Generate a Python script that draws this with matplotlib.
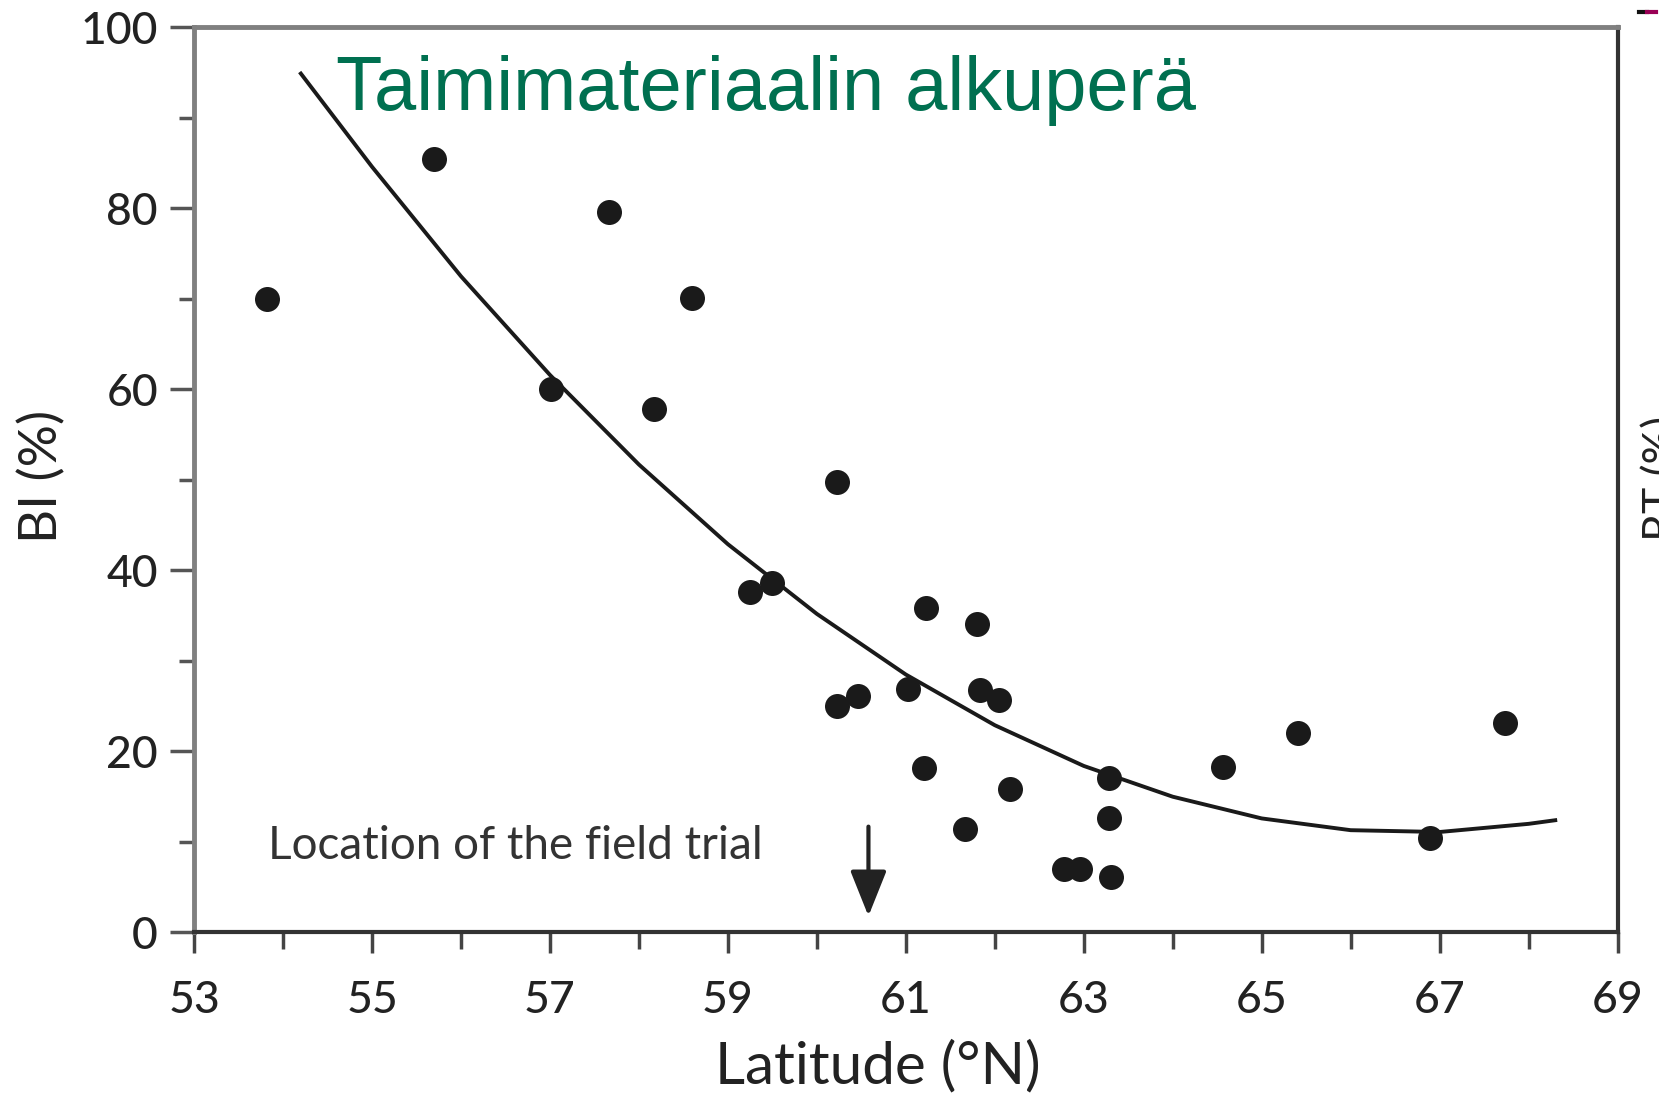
import matplotlib
matplotlib.use("Agg")
import matplotlib.pyplot as plt
from matplotlib.ticker import MultipleLocator
from matplotlib.lines import Line2D

# Provenance latitude (°N) vs. BI (%)
latitude = [53.82, 55.70, 57.66, 58.60, 57.01, 58.17, 60.23, 59.25, 59.50,
            61.23, 61.80, 60.23, 60.46, 61.03, 61.83, 62.05, 61.21, 62.17,
            61.67, 63.28, 63.28, 62.78, 62.96, 63.31, 64.57, 65.41, 66.89,
            67.74]
bi_pct = [70.0, 85.5, 79.6, 70.1, 60.0, 57.8, 49.8, 37.6, 38.6,
          35.9, 34.1, 25.0, 26.1, 26.9, 26.8, 25.7, 18.2, 15.8,
          11.4, 17.1, 12.6, 7.0, 7.0, 6.1, 18.3, 22.0, 10.4,
          23.1]

# Trend line as drawn in the picture
trend_lat = [54.2, 55, 56, 57, 58, 59, 60, 61, 62, 63, 64, 65, 66, 67, 68, 68.3]
trend_bi = [94.9, 84.6, 72.5, 61.6, 51.7, 42.9, 35.2, 28.5, 22.9, 18.4,
            15.0, 12.6, 11.3, 11.1, 12.0, 12.4]

field_trial_lat = 60.58

x_ticks = [53, 55, 57, 59, 61, 63, 65, 67, 69]
y_ticks = [0, 20, 40, 60, 80, 100]

TICK_FONT = ["Lato", "DejaVu Sans"]

fig = plt.figure(figsize=(16.59, 10.97), dpi=100)
ax = fig.add_axes([0.117, 0.150, 0.858, 0.825])

ax.plot(trend_lat, trend_bi, color="#1a1a1a", linewidth=2.8, zorder=2)
ax.plot(latitude, bi_pct, "o", color="#1a1a1a", markersize=18,
        markeredgewidth=0, zorder=3)

ax.set_xlim(53, 69)
ax.set_ylim(0, 100)
ax.set_xticks(x_ticks)
ax.set_xticklabels([str(v) for v in x_ticks])
ax.xaxis.set_minor_locator(MultipleLocator(1))
ax.set_yticks(y_ticks)
ax.set_yticklabels([str(v) for v in y_ticks])
ax.yaxis.set_minor_locator(MultipleLocator(10))

ax.tick_params(axis="x", which="major", direction="out", length=15, width=2.5,
               color="#444444", pad=19, labelsize=32, labelcolor="#222222")
ax.tick_params(axis="x", which="minor", direction="out", length=12, width=2.5,
               color="#444444")
ax.tick_params(axis="y", which="major", direction="out", length=17, width=2.5,
               color="#555555", pad=9, labelsize=32, labelcolor="#222222")
ax.tick_params(axis="y", which="minor", direction="out", length=11, width=2.5,
               color="#555555")
for lab in ax.get_xticklabels() + ax.get_yticklabels():
    lab.set_family(TICK_FONT)
    lab.set_fontweight("medium")

for side in ["left", "top"]:
    ax.spines[side].set_color("#808080")
    ax.spines[side].set_linewidth(3.5)
for side in ["right", "bottom"]:
    ax.spines[side].set_color("#333333")
    ax.spines[side].set_linewidth(3)

ax.set_xlabel("Latitude (°N)", fontsize=42, family=TICK_FONT,
              color="#222222", va="center")
ax.xaxis.set_label_coords(0.480, -0.148)
ax.set_ylabel("BI (%)", fontsize=38, family=TICK_FONT,
              color="#222222", va="center")
ax.yaxis.set_label_coords(-0.107, 0.504)

ax.text(0.0997, 0.930, "Taimimateriaalin alkuperä", transform=ax.transAxes,
        fontsize=54.5, family=["Liberation Sans", "DejaVu Sans"],
        color="#007050", ha="left", va="center")

ax.text(0.052, 0.095, "Location of the field trial", transform=ax.transAxes,
        fontsize=33, family=TICK_FONT, color="#333333",
        ha="left", va="center")
ax.annotate("", xy=(field_trial_lat, 1.5), xytext=(field_trial_lat, 12.0),
            arrowprops=dict(arrowstyle="-|>,head_length=0.7,head_width=0.28",
                            color="#222222", lw=3, mutation_scale=40))

# clipped label of the neighbouring panel at the right edge
fig.text(0.990, 0.564, "RT (%)", rotation=90, fontsize=32, family=TICK_FONT,
         color="#222222", ha="left", va="center")
fig.add_artist(Line2D([0.988, 0.993], [0.989, 0.989], color="#111111",
                      linewidth=3, transform=fig.transFigure))
fig.add_artist(Line2D([0.993, 0.998], [0.989, 0.989], color="#990055",
                      linewidth=3, transform=fig.transFigure))

fig.savefig("out.png", dpi=100)
